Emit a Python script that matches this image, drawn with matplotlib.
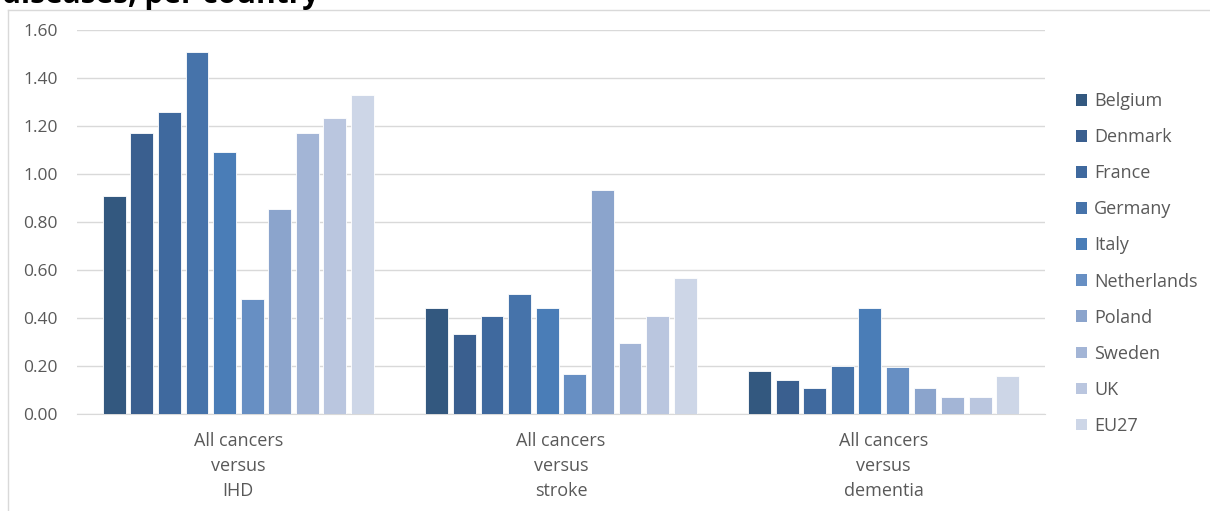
import matplotlib
matplotlib.use("Agg")
import matplotlib.pyplot as plt
import numpy as np
from matplotlib.patches import Patch
from matplotlib.lines import Line2D

categories = ["All cancers\nversus\nIHD", "All cancers\nversus\nstroke", "All cancers\nversus\ndementia"]
countries = ["Belgium", "Denmark", "France", "Germany", "Italy", "Netherlands",
             "Poland", "Sweden", "UK", "EU27"]
values = {
    "Belgium":     [0.91, 0.44, 0.18],
    "Denmark":     [1.17, 0.335, 0.14],
    "France":      [1.26, 0.41, 0.11],
    "Germany":     [1.51, 0.50, 0.20],
    "Italy":       [1.09, 0.44, 0.44],
    "Netherlands": [0.48, 0.165, 0.195],
    "Poland":      [0.855, 0.935, 0.11],
    "Sweden":      [1.17, 0.295, 0.07],
    "UK":          [1.235, 0.41, 0.07],
    "EU27":        [1.33, 0.565, 0.16],
}
colors = ["#33587f", "#3a5f8f", "#3f699e", "#4673aa", "#4a7db7", "#678fc3",
          "#8ba4cc", "#a3b5d6", "#bac6df", "#cdd6e7"]
yticks = [0.0, 0.2, 0.4, 0.6, 0.8, 1.0, 1.2, 1.4, 1.6]

plt.rcParams['font.family'] = ['Open Sans', 'DejaVu Sans']

W, H = 1210, 511
fig = plt.figure(figsize=(W/100, H/100), dpi=100)
ax = fig.add_axes([77/W, 1 - 414/H, (1045-77)/W, (414-30)/H])

n = len(countries)
x = np.arange(len(categories))
slot = 0.855 / n
barw = slot * 0.83
for i, c in enumerate(countries):
    off = (i - (n-1)/2) * slot
    ax.bar(x + off, values[c], width=barw, color=colors[i], edgecolor="white",
           linewidth=0.6, label=c, zorder=3)

ax.set_xlim(-0.5, len(categories) - 0.5)
ax.set_ylim(0, 1.6)
ax.set_yticks(yticks)
ax.set_yticklabels([f"{v:.2f}" for v in yticks], fontsize=12.5, color="#595959")
ax.set_xticks(x)
ax.set_xticklabels(categories, fontsize=13, color="#595959", linespacing=1.5)
ax.tick_params(axis="both", length=0)
ax.tick_params(axis="x", pad=13)
ax.tick_params(axis="y", pad=14)
ax.grid(axis="y", color="#d9d9d9", linewidth=1, zorder=0)
for s in ["top", "right", "left"]:
    ax.spines[s].set_visible(False)
ax.spines["bottom"].set_color("#d9d9d9")

handles = [Patch(facecolor=colors[i], edgecolor="none", label=c) for i, c in enumerate(countries)]
leg = fig.legend(handles=handles, loc="upper left", bbox_to_anchor=(1060/W, 1 - 76/H),
                 frameon=False, fontsize=13, handlelength=0.6, handleheight=0.6,
                 handletextpad=0.4, labelspacing=1.0, labelcolor="#595959")

# chart border
fig.add_artist(Line2D([8/W, 8/W], [0, 1 - 10/H], color="#d9d9d9", linewidth=1, transform=fig.transFigure))
fig.add_artist(Line2D([8/W, 1], [1 - 10/H, 1 - 10/H], color="#d9d9d9", linewidth=1, transform=fig.transFigure))

fig.text(2/W, 1 - 3/H, "diseases, per country", fontsize=21.5, fontweight="bold",
         va="baseline", ha="left", color="black")

fig.savefig("out.png", dpi=100)
